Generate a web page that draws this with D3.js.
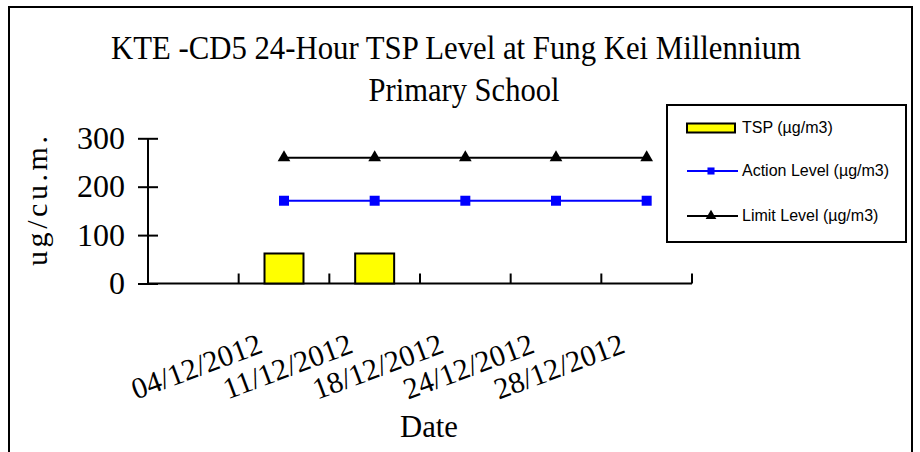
<!DOCTYPE html>
<html>
<head>
<meta charset="utf-8">
<script src="https://cdn.jsdelivr.net/npm/d3@7"></script>
<style>
  body { margin: 0; background: #fff; }
  svg { display: block; }
</style>
</head>
<body>
<div id="chart"></div>
<script>
// data
var categories = ["", "04/12/2012", "11/12/2012", "18/12/2012", "24/12/2012", "28/12/2012"];
var tspValues = [null, 62, 62, null, null, null];
var actionLevel = [null, 171, 171, 171, 171, 171];
var limitLevel = [null, 260, 260, 260, 260, 260];
var yTicks = [0, 100, 200, 300];
var seriesNames = ["TSP (µg/m3)", "Action Level (µg/m3)", "Limit Level (µg/m3)"];
var titleLines = ["KTE -CD5 24-Hour TSP Level at Fung Kei Millennium", "Primary School"];

var width = 920, height = 452;
var serif = "'Liberation Serif', 'Times New Roman', serif",
    sans = "'Liberation Sans', Arial, sans-serif";

var svg = d3.select("#chart").append("svg")
    .attr("width", width)
    .attr("height", height);

// outer frame (bottom edge falls off the picture)
svg.append("rect")
    .attr("x", 9).attr("y", 7)
    .attr("width", 903).attr("height", 470)
    .attr("fill", "none").attr("stroke", "#000").attr("stroke-width", 2);

// title
svg.append("text")
    .attr("x", 456).attr("y", 59)
    .attr("text-anchor", "middle")
    .attr("font-family", serif).attr("font-size", 33)
    .attr("textLength", 690).attr("lengthAdjust", "spacingAndGlyphs")
    .text(titleLines[0]);
svg.append("text")
    .attr("x", 464).attr("y", 101)
    .attr("text-anchor", "middle")
    .attr("font-family", serif).attr("font-size", 34)
    .attr("textLength", 191).attr("lengthAdjust", "spacingAndGlyphs")
    .text(titleLines[1]);

var x = d3.scaleBand().domain(categories).range([148, 692]).padding(0);
var y = d3.scaleLinear().domain([0, 300]).range([283.5, 138.3]);
var cx = function(i) { return x(categories[i]) + x.bandwidth() / 2; };

// y axis, ticks crossing the line
var yAxis = svg.append("g")
    .attr("transform", "translate(148,0)")
    .call(d3.axisLeft(y).tickValues(yTicks).tickSize(10).tickPadding(13).tickFormat(d3.format("d")));
yAxis.select(".domain").attr("stroke-width", 2).attr("d", "M0," + y(0) + "V" + y(300));
yAxis.selectAll(".tick line").attr("x1", 10).attr("stroke-width", 2);
yAxis.selectAll(".tick text")
    .attr("font-family", serif).attr("font-size", 32).attr("fill", "#000");

// x axis line and ticks at band edges, pointing up
svg.append("line")
    .attr("x1", 148).attr("x2", 692)
    .attr("y1", y(0)).attr("y2", y(0))
    .attr("stroke", "#000").attr("stroke-width", 2);
svg.selectAll(".xtick").data(categories).enter().append("line")
    .attr("class", "xtick")
    .attr("x1", function(d) { return x(d) + x.bandwidth(); })
    .attr("x2", function(d) { return x(d) + x.bandwidth(); })
    .attr("y1", y(0)).attr("y2", y(0) - 10)
    .attr("stroke", "#000").attr("stroke-width", 2);

// rotated date labels
svg.selectAll(".xlabel").data(categories).enter().append("text")
    .attr("class", "xlabel")
    .attr("transform", function(d, i) { return "translate(" + (cx(i) - 20) + ",352) rotate(-20.5)"; })
    .attr("text-anchor", "end")
    .attr("font-family", serif).attr("font-size", 30)
    .text(function(d) { return d; });

// axis titles
svg.append("text")
    .attr("transform", "translate(47,201) rotate(-90)")
    .attr("text-anchor", "middle")
    .attr("font-family", serif).attr("font-size", 30)
    .attr("textLength", 130).attr("lengthAdjust", "spacing")
    .text("ug/cu.m.");
svg.append("text")
    .attr("x", 429).attr("y", 437)
    .attr("text-anchor", "middle")
    .attr("font-family", serif).attr("font-size", 32)
    .attr("textLength", 58).attr("lengthAdjust", "spacingAndGlyphs")
    .text("Date");

// TSP bars
var barW = x.bandwidth() * 0.43;
var bars = tspValues.map(function(v, i) { return { i: i, v: v }; })
    .filter(function(d) { return d.v != null; });
svg.selectAll(".bar").data(bars).enter().append("rect")
    .attr("class", "bar")
    .attr("x", function(d) { return cx(d.i) - barW / 2; })
    .attr("y", function(d) { return y(d.v); })
    .attr("width", barW)
    .attr("height", function(d) { return y(0) - y(d.v); })
    .attr("fill", "#ffff00")
    .attr("stroke", "#000").attr("stroke-width", 2);

// level lines
function levelSeries(values, color, symbol, size) {
  var pts = values.map(function(v, i) { return [i, v]; }).filter(function(p) { return p[1] != null; });
  svg.append("path")
      .datum(pts)
      .attr("fill", "none").attr("stroke", color).attr("stroke-width", 2)
      .attr("d", d3.line().x(function(p) { return cx(p[0]); }).y(function(p) { return y(p[1]); }));
  svg.selectAll(null).data(pts).enter().append("path")
      .attr("transform", function(p) { return "translate(" + cx(p[0]) + "," + y(p[1]) + ")"; })
      .attr("d", d3.symbol().type(symbol).size(size))
      .attr("fill", color);
}
levelSeries(actionLevel, "#0000ff", d3.symbolSquare, 100);
levelSeries(limitLevel, "#000", d3.symbolTriangle, 70);

// legend
var legend = svg.append("g");
legend.append("rect")
    .attr("x", 667).attr("y", 105)
    .attr("width", 239).attr("height", 137)
    .attr("fill", "#fff").attr("stroke", "#000").attr("stroke-width", 2);
var legendY = [128, 171, 216];
var item = legend.selectAll(".item").data(seriesNames).enter().append("g")
    .attr("transform", function(d, i) { return "translate(687," + legendY[i] + ")"; });
item.append("text")
    .attr("x", 55).attr("y", 5)
    .attr("font-family", sans).attr("font-size", 16)
    .text(function(d) { return d; });
item.filter(function(d, i) { return i === 0; }).append("rect")
    .attr("x", 0).attr("y", -4.5).attr("width", 48).attr("height", 9)
    .attr("fill", "#ffff00").attr("stroke", "#000").attr("stroke-width", 2);
item.filter(function(d, i) { return i > 0; }).append("line")
    .attr("x1", 0).attr("x2", 51).attr("y1", 0).attr("y2", 0)
    .attr("stroke", function(d, i) { return i === 0 ? "#0000ff" : "#000"; })
    .attr("stroke-width", 2);
item.filter(function(d, i) { return i > 0; }).append("path")
    .attr("transform", "translate(24,0)")
    .attr("d", function(d, i) { return d3.symbol().type(i === 0 ? d3.symbolSquare : d3.symbolTriangle).size(50)(); })
    .attr("fill", function(d, i) { return i === 0 ? "#0000ff" : "#000"; });
</script>
</body>
</html>
